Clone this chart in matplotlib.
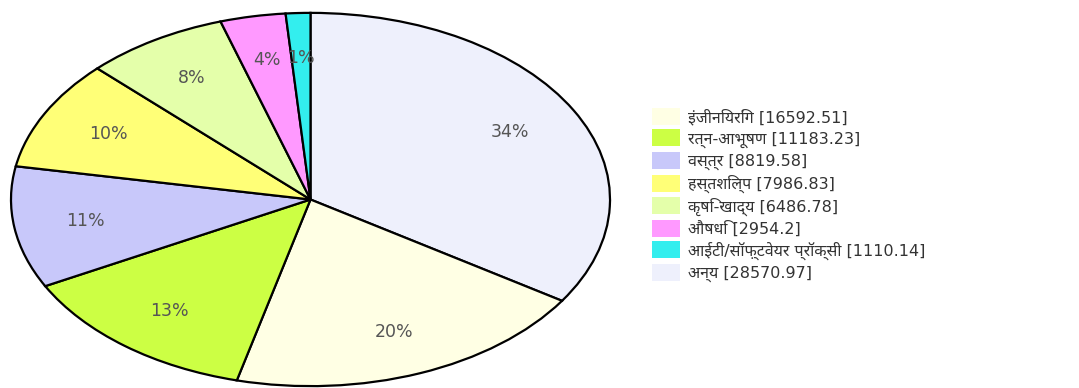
import matplotlib
matplotlib.use('Agg')
import matplotlib.pyplot as plt
from matplotlib import font_manager

# data (clockwise from the top)
categories = ['अन्य', 'इंजीनियरिंग', 'रत्न-आभूषण', 'वस्त्र', 'हस्तशिल्प',
              'कृषि-खाद्य', 'औषधि', 'आईटी/सॉफ़्टवेयर प्रॉक्सी']
values = [28570.97, 16592.51, 11183.23, 8819.58, 7986.83, 6486.78, 2954.2, 1110.14]
value_text = ['28570.97', '16592.51', '11183.23', '8819.58', '7986.83',
              '6486.78', '2954.2', '1110.14']
colors = ['#eef0fc', '#ffffe4', '#ccff44', '#c8c8fa', '#ffff77',
          '#e4ffaa', '#ff99ff', '#33eeee']
legend_order = [1, 2, 3, 4, 5, 6, 7, 0]

# pick a Devanagari font that is installed
names = {f.name for f in font_manager.fontManager.ttflist}
deva = 'DejaVu Sans'
for cand in ['Noto Sans Devanagari', 'Mukta', 'Hind', 'Poppins', 'Anek Devanagari']:
    if cand in names:
        deva = cand
        break
fams = ['DejaVu Sans', deva]

fig = plt.figure(figsize=(10.79, 3.88), dpi=100)
ax = fig.add_axes([8 / 1079, 0, 605 / 1079, 377 / 388])

wedges, texts, autotexts = ax.pie(
    values, colors=colors, startangle=90, counterclock=False,
    autopct='%.0f%%', pctdistance=0.76,
    wedgeprops=dict(edgecolor='black', linewidth=1.6),
    textprops=dict(color='#555555', fontsize=12.5, family=fams))
ax.set_aspect('auto')
ax.set_xlim(-1.01, 1.01)
ax.set_ylim(-1.01, 1.01)

labels = [f'{c} [{v}]' for c, v in zip(categories, value_text)]
leg = fig.legend([wedges[i] for i in legend_order],
                 [labels[i] for i in legend_order],
                 loc='center left', bbox_to_anchor=(652 / 1079, 0.497),
                 frameon=False, prop=dict(family=fams, size=11.5),
                 handlelength=1.75, handleheight=1.25, handletextpad=0.5,
                 labelspacing=0.27, borderpad=0, borderaxespad=0)
for h in leg.legend_handles:
    h.set_edgecolor('none')
for t in leg.get_texts():
    t.set_color('#333333')

fig.savefig('out.png')
